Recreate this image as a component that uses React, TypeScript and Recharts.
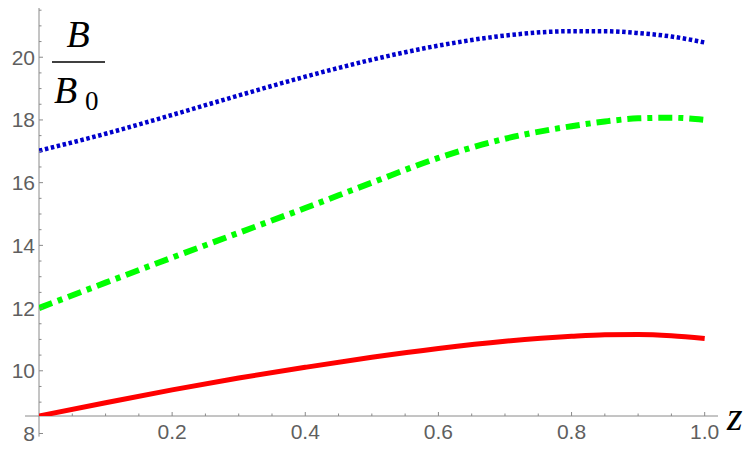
import React from 'react';
import { LineChart, Line, XAxis, YAxis, ReferenceLine } from 'recharts';

// ---- data ----
const Z = [0, 0.1, 0.2, 0.3, 0.4, 0.5, 0.6, 0.7, 0.8, 0.85, 0.9, 0.95, 1.0];
const RED = [8.56, 8.98, 9.39, 9.77, 10.11, 10.43, 10.71, 10.94, 11.1, 11.15, 11.16, 11.12, 11.03];
const GREEN = [12.0, 12.81, 13.61, 14.4, 15.19, 16.0, 16.79, 17.4, 17.8, 17.95, 18.05, 18.07, 18.0];
const BLUE = [17.02, 17.56, 18.16, 18.78, 19.38, 19.92, 20.37, 20.69, 20.83, 20.83, 20.77, 20.66, 20.47];

const X_MAJOR = [0.2, 0.4, 0.6, 0.8, 1.0];
const X_MINOR = [0.05, 0.1, 0.15, 0.25, 0.3, 0.35, 0.45, 0.5, 0.55, 0.65, 0.7, 0.75, 0.85, 0.9, 0.95];
const Y_MAJOR = [8, 10, 12, 14, 16, 18, 20];
const Y_MINOR = [9, 9.5, 10.5, 11, 11.5, 12.5, 13, 13.5, 14.5, 15, 15.5, 16.5, 17, 17.5, 18.5, 19, 19.5, 20.5, 21, 21.5];

const X_DOMAIN: [number, number] = [0, 1.02];
const X_LEFT = -0.021;
const Y_DOMAIN: [number, number] = [8.558, 21.57];
const Y_BOTTOM = 7.9;

const data = Z.map((z, i) => ({ z, red: RED[i], green: GREEN[i], blue: BLUE[i] }));
const X_TICKS = [...X_MAJOR, ...X_MINOR].sort((a, b) => a - b);
const Y_TICKS = [...Y_MAJOR, ...Y_MINOR].sort((a, b) => a - b);

const AXIS = '#8a8a8a';
const TEXT = '#5f5f5f';
const SANS = 'Liberation Sans';
const SERIF = 'Liberation Serif';

const isIn = (arr: number[], v: number) => arr.some((m) => Math.abs(m - v) < 1e-6);

const XTick = (props: any) => {
  const { x, y, payload } = props;
  const v = payload.value as number;
  const major = isIn(X_MAJOR, v);
  return (
    <g>
      <line x1={x} x2={x} y1={y} y2={y - (major ? 4 : 2.5)} stroke={AXIS} strokeWidth={1} />
      {major && (
        <text x={x} y={y + 23} textAnchor="middle" fill={TEXT} fontSize={21} fontFamily={SANS}>
          {v.toFixed(1)}
        </text>
      )}
    </g>
  );
};

const YTick = (props: any) => {
  const { x, y, payload } = props;
  const v = payload.value as number;
  const major = isIn(Y_MAJOR, v);
  return (
    <g>
      <line x1={x} x2={x + (major ? 4 : 2.5)} y1={y} y2={y} stroke={AXIS} strokeWidth={1} />
      {major && (
        <text x={x - 4} y={y} dy="0.36em" textAnchor="end" fill={TEXT} fontSize={21} fontFamily={SANS}>
          {v}
        </text>
      )}
    </g>
  );
};

export default function App() {
  return (
    <div style={{ position: 'absolute', left: 0, top: 0, width: 747, height: 458, background: '#fff' }}>
      <LineChart width={747} height={458} data={data} margin={{ top: 8, right: 29, bottom: 41, left: 38 }}>
        <XAxis
          type="number"
          dataKey="z"
          domain={X_DOMAIN}
          allowDataOverflow
          ticks={X_TICKS}
          interval={0}
          axisLine={false}
          tickLine={false}
          tickSize={0}
          tickMargin={0}
          height={1}
          tick={<XTick />}
        />
        <YAxis
          type="number"
          domain={Y_DOMAIN}
          allowDataOverflow
          ticks={Y_TICKS}
          interval={0}
          axisLine={false}
          tickLine={false}
          tickSize={0}
          tickMargin={0}
          width={1}
          tick={<YTick />}
        />
        <ReferenceLine
          segment={[{ x: 0, y: Y_BOTTOM }, { x: 0, y: Y_DOMAIN[1] }]}
          stroke={AXIS}
          strokeWidth={1}
          ifOverflow="visible"
        />
        <ReferenceLine
          segment={[{ x: X_LEFT, y: Y_DOMAIN[0] }, { x: X_DOMAIN[1], y: Y_DOMAIN[0] }]}
          stroke={AXIS}
          strokeWidth={1}
          ifOverflow="visible"
        />
        <Line type="monotone" dataKey="red" stroke="#ff0000" strokeWidth={5} dot={false} isAnimationActive={false} />
        <Line
          type="monotone"
          dataKey="green"
          stroke="#00ff00"
          strokeWidth={6}
          strokeDasharray="14 6 5 6"
          dot={false}
          isAnimationActive={false}
        />
        <Line
          type="monotone"
          dataKey="blue"
          stroke="#0000cc"
          strokeWidth={4.5}
          strokeDasharray="3.5 2.6"
          dot={false}
          isAnimationActive={false}
        />
      </LineChart>
      <svg
        width={747}
        height={458}
        style={{ position: 'absolute', left: 0, top: 0, pointerEvents: 'none' }}
      >
        <text x={78} y={47} textAnchor="middle" fill="#000" fontFamily={SERIF} fontStyle="italic" fontSize={38}>
          B
        </text>
        <line x1={52} x2={105} y1={62} y2={62} stroke="#000" strokeWidth={1.6} />
        <text x={54} y={103} fill="#000" fontFamily={SERIF} fontStyle="italic" fontSize={38}>
          B
        </text>
        <text x={85} y={110} fill="#000" fontFamily={SERIF} fontSize={27}>
          0
        </text>
        <text x={727} y={430} fill="#000" fontFamily={SERIF} fontStyle="italic" fontSize={40}>
          z
        </text>
      </svg>
    </div>
  );
}
